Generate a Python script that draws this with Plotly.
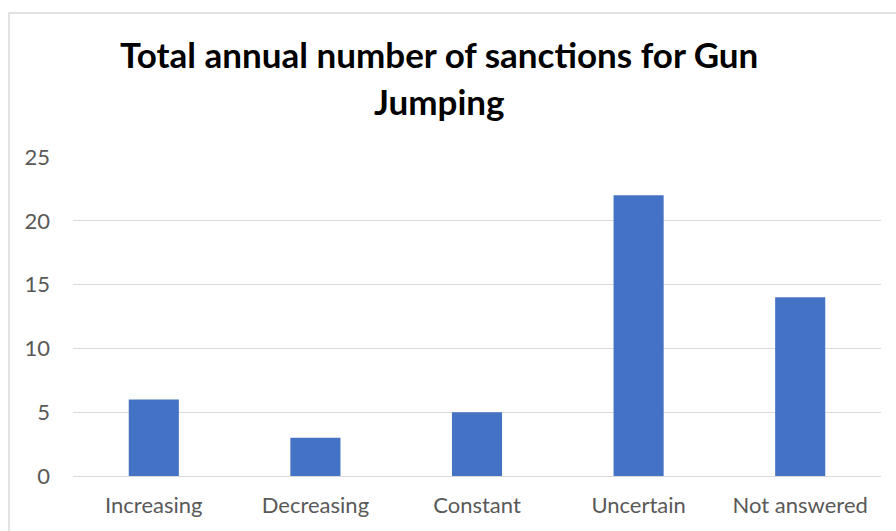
import plotly.graph_objects as go

categories = ["Increasing", "Decreasing", "Constant", "Uncertain", "Not answered"]
values = [6, 3, 5, 22, 14]
y_ticks = [0, 5, 10, 15, 20, 25]
title_lines = ["Total annual number of sanctions for Gun", "Jumping"]

W, H = 896, 531
L, R, T, B = 73, 15, 157, 55
pw, ph = W - L - R, H - T - B

def px_x(x):
    return (x - L) / pw

def px_y(y):
    return (H - B - y) / ph

fig = go.Figure(go.Bar(x=categories, y=values, marker_color="#4472C4",
                       marker_line_width=0))

fig.update_layout(
    width=W, height=H, margin=dict(l=L, r=R, t=T, b=B),
    plot_bgcolor="white", paper_bgcolor="white",
    bargap=0.69, showlegend=False,
    font=dict(family="Lato, Open Sans, sans-serif", color="#595959"),
)
fig.update_xaxes(showgrid=False, showline=False, ticks="",
                 tickfont=dict(size=22, color="#595959"), ticklabelstandoff=14)
fig.update_yaxes(range=[0, 25], tickvals=y_ticks, showgrid=True, gridcolor="#D9D9D9",
                 gridwidth=1, zeroline=True, zerolinecolor="#D9D9D9", zerolinewidth=1,
                 showline=False, ticks="", tickfont=dict(size=22, color="#595959"),
                 ticklabelstandoff=22)

fig.add_annotation(text="<b>" + title_lines[0] + "</b>", xref="paper", yref="paper",
                   x=px_x(439), y=px_y(54), xanchor="center", yanchor="middle",
                   showarrow=False, font=dict(size=35, color="#000000",
                                              family="Lato, Open Sans, sans-serif"))
fig.add_annotation(text="<b>" + title_lines[1] + "</b>", xref="paper", yref="paper",
                   x=px_x(439), y=px_y(101), xanchor="center", yanchor="middle",
                   showarrow=False, font=dict(size=35, color="#000000",
                                              family="Lato, Open Sans, sans-serif"))

fig.add_shape(type="rect", xref="paper", yref="paper",
              x0=px_x(9), y0=px_y(560), x1=px_x(930), y1=px_y(13),
              line=dict(color="#D9D9D9", width=1.5), fillcolor="rgba(0,0,0,0)",
              layer="below")

fig.write_html("out.html", config={"displayModeBar": False},
               post_script="document.body.style.margin='0';")
